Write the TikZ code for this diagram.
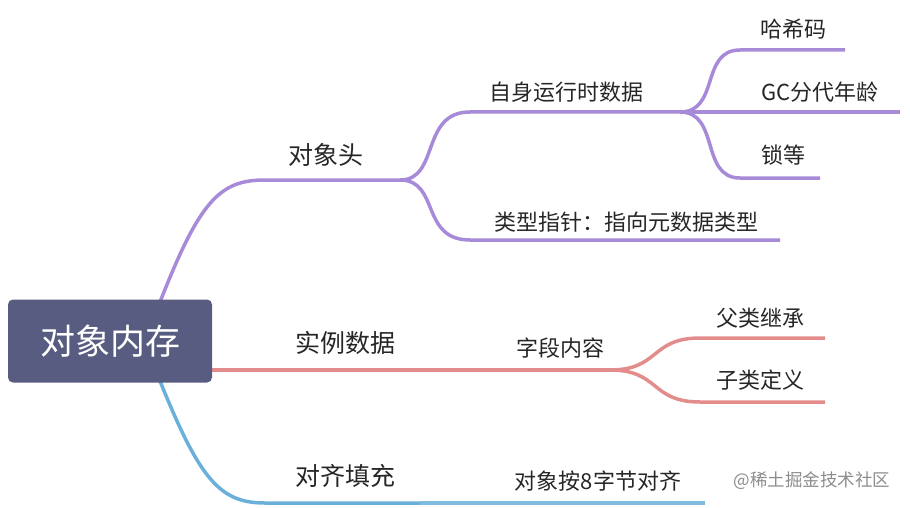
\documentclass[tikz,border=0pt]{standalone}
\usepackage{fontspec}
\setmainfont{Noto Sans CJK SC}
\begin{document}
\begin{tikzpicture}[x=1pt,y=-1pt,
  pu/.style={draw=purp,line width=3.5pt},
  re/.style={draw=redc,line width=3.5pt},
  bl/.style={draw=bluc,line width=3.5pt},
  l1/.style={font=\fontsize{25}{28}\selectfont,text=black!85},
  l2/.style={font=\fontsize{22}{26}\selectfont,text=black!85}]
\definecolor{purp}{HTML}{A78BD8}
\definecolor{redc}{HTML}{E38C8C}
\definecolor{bluc}{HTML}{6BB0DA}
\definecolor{rootc}{HTML}{585C80}
\useasboundingbox (0,0) rectangle (910,508);
% coordinates
\coordinate (rt) at (160,302);
\coordinate (rb) at (160,381);
\coordinate (h0) at (265,180); \coordinate (h1) at (400,180);
\coordinate (a0) at (470,112); \coordinate (a1) at (680,112);
\coordinate (b0) at (470,240); \coordinate (b1) at (780,240);
\coordinate (c0) at (740,50); \coordinate (c1) at (845,50);
\coordinate (d0) at (740,112); \coordinate (d1) at (900,112);
\coordinate (e0) at (740,178); \coordinate (e1) at (820,178);
\coordinate (s0) at (212,370); \coordinate (s1) at (420,370); \coordinate (s2) at (610,370);
\coordinate (f0) at (700,338); \coordinate (f1) at (825,338);
\coordinate (g0) at (700,402); \coordinate (g1) at (825,402);
\coordinate (p0) at (265,503); \coordinate (p1) at (420,503); \coordinate (p2) at (705,503);
% purple
\draw[pu] (rt) .. controls (200,200) and (220,180) .. (h0) -- (h1);
\draw[pu] (h1) .. controls (440,180) and (420,112) .. (a0) -- (a1);
\draw[pu] (h1) .. controls (440,180) and (420,240) .. (b0) -- (b1);
\draw[pu] (a1) .. controls (720,112) and (700,50) .. (c0) -- (c1);
\draw[pu] (a1) -- (d0) -- (d1);
\draw[pu] (a1) .. controls (720,112) and (700,178) .. (e0) -- (e1);
% red
\draw[re] (s0) -- (s1) -- (s2);
\draw[re] (s2) .. controls (660,370) and (650,338) .. (f0) -- (f1);
\draw[re] (s2) .. controls (660,370) and (650,402) .. (g0) -- (g1);
% blue
\draw[bl] (rb) .. controls (200,480) and (220,503) .. (p0) -- (p1);
\draw[bl,draw=bluc!85] (p1) -- (p2);
% root
\node[fill=rootc,rounded corners=5pt,minimum width=204pt,minimum height=83pt,
  text=white,font=\fontsize{35}{40}\selectfont] (root) at (110,341) {对象内存};
% labels
\node[l1] (t1) at (326,155) {对象头};
\node[l2] (t2) at (566,92) {自身运行时数据};
\node[l2] (t3) at (626,222) {类型指针：指向元数据类型};
\node[l2] (t4) at (793,29) {哈希码};
\node[l2] (t5) at (820,92) {GC分代年龄};
\node[l2] (t6) at (783,155) {锁等};
\node[l1] (t7) at (345,343) {实例数据};
\node[l2] (t8) at (560,348) {字段内容};
\node[l2] (t9) at (760,318) {父类继承};
\node[l2] (t10) at (760,380) {子类定义};
\node[l1] (t11) at (345,476) {对齐填充};
\node[l2] (t12) at (598,481) {对象按8字节对齐};
\node[font=\fontsize{17.5}{20}\selectfont,text=black!45] (wm) at (812,481) {@稀土掘金技术社区};
\end{tikzpicture}
\end{document}
